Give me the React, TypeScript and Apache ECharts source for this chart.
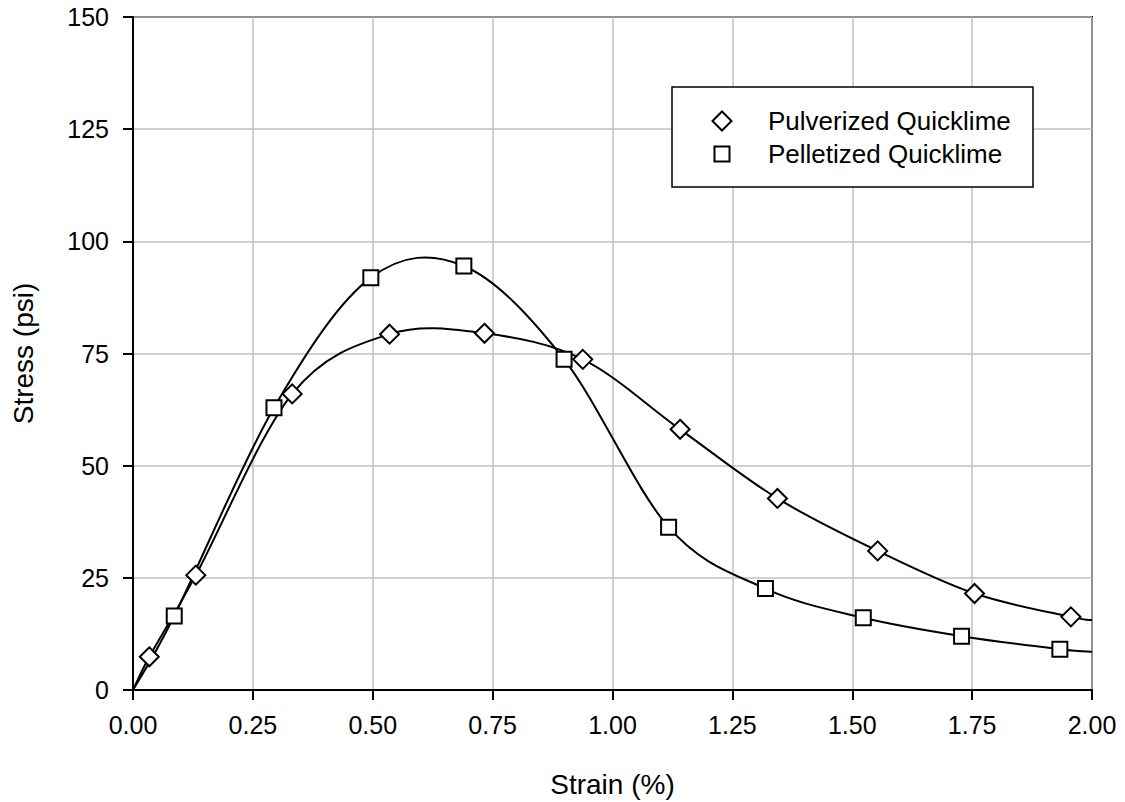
import React, { useEffect, useRef } from "react";
import * as echarts from "echarts";

const seriesNames = ["Pulverized Quicklime", "Pelletized Quicklime"];

const pulverizedStrain = [0, 0.034, 0.131, 0.332, 0.535, 0.733, 0.938, 1.141, 1.344, 1.553, 1.755, 1.956, 2.0];
const pulverizedStress = [0, 7.4, 25.6, 66.0, 79.3, 79.5, 73.7, 58.1, 42.7, 31.0, 21.5, 16.3, 15.6];
const pulverizedMarked = [false, true, true, true, true, true, true, true, true, true, true, true, false];

const pelletizedStrain = [0, 0.086, 0.294, 0.496, 0.69, 0.899, 1.117, 1.319, 1.523, 1.728, 1.933, 2.0];
const pelletizedStress = [0, 16.5, 62.9, 91.9, 94.5, 73.7, 36.3, 22.6, 16.1, 12.0, 9.1, 8.5];
const pelletizedMarked = [false, true, true, true, true, true, true, true, true, true, true, false];

const xTicks = [0, 0.25, 0.5, 0.75, 1.0, 1.25, 1.5, 1.75, 2.0];
const yTicks = [0, 25, 50, 75, 100, 125, 150];

const xTitle = "Strain (%)";
const yTitle = "Stress (psi)";

const FONT = "'Liberation Sans', Arial, Helvetica, sans-serif";

function markerData(xs: number[], ys: number[], marked: boolean[]) {
  return xs.map((x, i) =>
    marked[i] ? { value: [x, ys[i]] } : { value: [x, ys[i]], symbol: "none" }
  );
}

function curveData(xs: number[], ys: number[]) {
  return xs.map((x, i) => [x, ys[i]]);
}

// Smoothed curve (Catmull-Rom style Bezier, like spreadsheet "smoothed line")
function renderSmooth(params: any, api: any) {
  const i = params.dataIndexInside;
  const n = params.dataInsideLength;
  if (i >= n - 1) return { type: "group", children: [] };
  const P = (k: number) => api.coord([api.value(0, k), api.value(1, k)]);
  const p0 = P(Math.max(i - 1, 0));
  const p1 = P(i);
  const p2 = P(i + 1);
  const p3 = P(Math.min(i + 2, n - 1));
  return {
    type: "bezierCurve",
    shape: {
      x1: p1[0],
      y1: p1[1],
      x2: p2[0],
      y2: p2[1],
      cpx1: p1[0] + (p2[0] - p0[0]) / 6,
      cpy1: p1[1] + (p2[1] - p0[1]) / 6,
      cpx2: p2[0] - (p3[0] - p1[0]) / 6,
      cpy2: p2[1] - (p3[1] - p1[1]) / 6,
    },
    style: { stroke: "#000", lineWidth: 2, fill: "none" },
  };
}

export default function App() {
  const ref = useRef<HTMLDivElement>(null);

  useEffect(() => {
    if (!ref.current) return;
    const chart = echarts.init(ref.current, undefined, { renderer: "svg" });

    const markerCommon = {
      type: "scatter",
      itemStyle: { color: "#fff", borderColor: "#000", borderWidth: 2, opacity: 1 },
      emphasis: { disabled: true },
      z: 6,
    };
    const curveCommon = {
      type: "custom",
      renderItem: renderSmooth,
      encode: { x: 0, y: 1 },
      clip: true,
      silent: true,
      z: 4,
    };

    const textBase = { color: "#000", fontFamily: FONT };

    chart.setOption({
      animation: false,
      backgroundColor: "#fff",
      grid: {
        left: 133,
        right: 33,
        top: 17,
        bottom: 112,
        show: true,
        borderColor: "#000",
        borderWidth: 2,
        outerBoundsMode: "none",
      },
      xAxis: {
        type: "value",
        min: xTicks[0],
        max: xTicks[xTicks.length - 1],
        interval: xTicks[1] - xTicks[0],
        name: xTitle,
        nameLocation: "middle",
        nameGap: 80,
        nameTextStyle: { ...textBase, fontSize: 28 },
        axisLine: { show: true, lineStyle: { color: "#000", width: 2 } },
        axisTick: { show: true, inside: false, length: 10, lineStyle: { color: "#000", width: 2 } },
        axisLabel: {
          ...textBase,
          fontSize: 25,
          margin: 22,
          formatter: (v: number) => v.toFixed(2),
        },
        splitLine: { show: true, lineStyle: { color: "#c0c0c0", width: 1.5 } },
      },
      yAxis: {
        type: "value",
        min: yTicks[0],
        max: yTicks[yTicks.length - 1],
        interval: yTicks[1] - yTicks[0],
        name: yTitle,
        nameLocation: "middle",
        nameGap: 96,
        nameTextStyle: { ...textBase, fontSize: 28 },
        axisLine: { show: true, lineStyle: { color: "#000", width: 2 } },
        axisTick: { show: true, inside: false, length: 10, lineStyle: { color: "#000", width: 2 } },
        axisLabel: { ...textBase, fontSize: 25, margin: 24 },
        splitLine: { show: true, lineStyle: { color: "#c0c0c0", width: 1.5 } },
      },
      graphic: [
        {
          type: "rect",
          z: 10,
          shape: { x: 672, y: 87, width: 361, height: 100 },
          style: { fill: "#fff", stroke: "#000", lineWidth: 1.5 },
        },
      ],
      legend: [
        {
          data: [{ name: seriesNames[0], icon: "diamond" }],
          left: 711.5,
          top: 108,
          orient: "vertical",
          padding: 0,
          itemWidth: 19,
          itemHeight: 19,
          selectedMode: false,
          z: 20,
          textStyle: { ...textBase, fontSize: 26, lineHeight: 26, padding: [0, 0, 0, 31.5] },
        },
        {
          data: [{ name: seriesNames[1], icon: "rect" }],
          left: 713.5,
          top: 141,
          orient: "vertical",
          padding: 0,
          itemWidth: 15,
          itemHeight: 15,
          selectedMode: false,
          z: 20,
          textStyle: { ...textBase, fontSize: 26, lineHeight: 26, padding: [0, 0, 0, 33.5] },
        },
      ],
      series: [
        {
          ...curveCommon,
          name: "curve-pulverized",
          data: curveData(pulverizedStrain, pulverizedStress),
        },
        {
          ...curveCommon,
          name: "curve-pelletized",
          data: curveData(pelletizedStrain, pelletizedStress),
        },
        {
          ...markerCommon,
          name: seriesNames[0],
          symbol: "diamond",
          symbolSize: 19,
          data: markerData(pulverizedStrain, pulverizedStress, pulverizedMarked),
        },
        {
          ...markerCommon,
          name: seriesNames[1],
          symbol: "rect",
          symbolSize: 15,
          data: markerData(pelletizedStrain, pelletizedStress, pelletizedMarked),
        },
      ],
    });

    return () => chart.dispose();
  }, []);

  return (
    <div
      ref={ref}
      style={{ position: "fixed", left: 0, top: 0, width: 1125, height: 802, background: "#fff" }}
    />
  );
}
